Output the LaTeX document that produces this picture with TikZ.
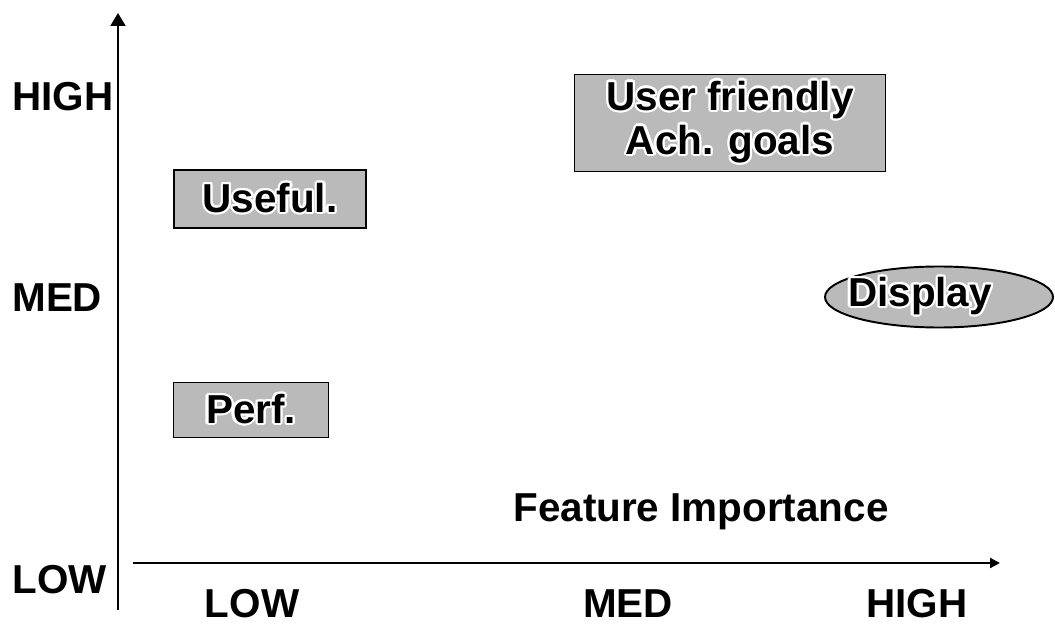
\documentclass[tikz,border=0pt]{standalone}
\usepackage{fontspec}
\setmainfont{Liberation Sans}
\usepackage[copies]{contour}
\contourlength{1.3pt}
\usetikzlibrary{arrows.meta,shapes.geometric}

\newcommand{\bigbold}{\bfseries\fontsize{23}{25}\selectfont}
\newcommand{\halo}[1]{\contour{white}{#1}}

\tikzset{
  axislabel/.style={font=\bigbold, inner sep=0pt},
  featbox/.style={draw, line width=1.1pt, fill=black!27, font=\bigbold,
    align=center, inner sep=0pt},
  axisline/.style={line width=1.2pt},
}

\begin{document}
\begin{tikzpicture}
  \useasboundingbox (0,0) rectangle (21.1,12.52);
  % axis ends
  \coordinate (yfoot) at (2.36,0.32);
  \coordinate (ytop) at (2.36,12.26);
  \coordinate (xleft) at (2.66,1.26);
  \coordinate (xright) at (20.0,1.26);
  \draw[axisline, -{Triangle[width=0.3cm,length=0.26cm]}] (yfoot) -- (ytop);
  \draw[axisline, -{Triangle[width=0.2cm,length=0.2cm]}] (xleft) -- (xright);
  % levels on the vertical axis
  \node[axislabel, anchor=west] (yhigh) at (0.24,10.58) {HIGH};
  \node[axislabel, anchor=west] (ymed) at (0.24,6.56) {MED};
  \node[axislabel, anchor=west] (ylow) at (0.24,0.92) {LOW};
  % levels on the horizontal axis
  \node[axislabel] (xlow) at (5.04,0.44) {LOW};
  \node[axislabel] (xmed) at (12.56,0.44) {MED};
  \node[axislabel] (xhigh) at (18.34,0.44) {HIGH};
  \node[axislabel] (xtitle) at (14.02,2.28) {Feature Importance};
  % features
  \node[featbox, minimum width=6.22cm, minimum height=1.94cm] (userfr) at (14.6,10.06)
    {\halo{User friendly}\\\halo{Ach. goals}};
  \node[featbox, minimum width=3.84cm, minimum height=1.16cm] (useful) at (5.40,8.54)
    {\halo{Useful.}};
  \node[featbox, minimum width=3.1cm, minimum height=1.1cm] (perf) at (5.02,4.32)
    {\halo{Perf.}};
  \node[featbox, ellipse, minimum width=4.56cm, minimum height=1.22cm] (display) at (18.78,6.58) {};
  \node[axislabel] (displaytxt) at ([xshift=-0.38cm]display.center) {\halo{Display}};
\end{tikzpicture}
\end{document}
